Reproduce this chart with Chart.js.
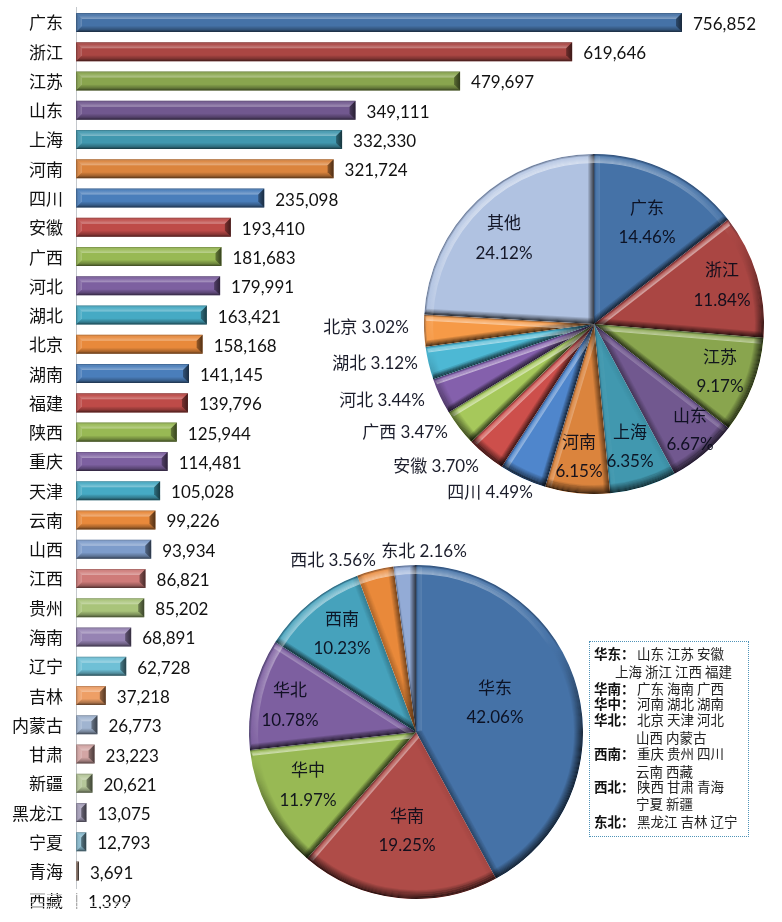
<!DOCTYPE html>
<html lang="zh"><head><meta charset="utf-8">
<style>
html,body{margin:0;padding:0;background:#fff;width:782px;height:922px;overflow:hidden}
canvas{position:absolute;left:0;top:0}
#key{position:absolute;left:589px;top:641px;width:158px;height:194px;border:1px dotted #4f93b8;box-sizing:content-box;font-family:"Noto Sans CJK SC","Lato",sans-serif;font-size:13.5px;color:#222}
#key div{position:absolute;white-space:pre;line-height:16px}
#key b{font-weight:700;color:#111;display:inline-block;width:43px}
.wipe{position:absolute;left:0;width:220px;background:#fff}
</style>
<script src="https://cdn.jsdelivr.net/npm/chart.js@4/dist/chart.umd.min.js"></script>
</head><body>
<canvas id="bars" width="782" height="922"></canvas>
<canvas id="pieTop" width="782" height="922"></canvas>
<canvas id="pieBottom" width="782" height="922"></canvas>
<div class="wipe" style="top:889px;height:4px"></div>
<div class="wipe" style="top:894px;height:1px;opacity:.8"></div>
<div class="wipe" style="top:902px;height:1px;opacity:.55"></div>
<div class="wipe" style="top:906px;height:1px;opacity:.7"></div>
<div class="wipe" style="top:909px;height:13px"></div>
<div id="key"></div>
<script>
const provinces = ["广东","浙江","江苏","山东","上海","河南","四川","安徽","广西","河北","湖北","北京","湖南","福建","陕西","重庆","天津","云南","山西","江西","贵州","海南","辽宁","吉林","内蒙古","甘肃","新疆","黑龙江","宁夏","青海","西藏"];
const provinceValues = [756852,619646,479697,349111,332330,321724,235098,193410,181683,179991,163421,158168,141145,139796,125944,114481,105028,99226,93934,86821,85202,68891,62728,37218,26773,23223,20621,13075,12793,3691,1399];
const barColors = ["#4572A7","#AA4643","#89A54E","#71588F","#4198AF","#DB843D","#4A7EBB","#BE4B48","#98B954","#7D60A0","#46AAC4","#E8893B","#4A7EBB","#BE4B48","#98B954","#7D60A0","#46AAC4","#E8893B","#7D9CCB","#CF7B79","#A9C47A","#9683B3","#6FC0D6","#EE9F66","#A0B4D0","#D3A5A4","#B6C79A","#A49DB8","#86B8CC","#8A7468","#C8C8C8"];

const shareNames = ["广东","浙江","江苏","山东","上海","河南","四川","安徽","广西","河北","湖北","北京","其他"];
const shareValues = [14.46,11.84,9.17,6.67,6.35,6.15,4.49,3.70,3.47,3.44,3.12,3.02,24.12];
const shareColors = ["#4572A7","#AA4643","#89A54E","#71588F","#4198AF","#DB843D","#4F86CC","#CD4F4B","#A6C85B","#8460AC","#4DB8D4","#F69A47","#B0C2E1"];

const regionNames = ["华东","华南","华中","华北","西南","西北","东北"];
const regionValues = [42.06,19.25,11.97,10.78,10.23,3.56,2.16];
const regionColors = ["#4572A7","#AF4C48","#98B954","#7D5FA0","#46A2BC","#E9893A","#93ABD6"];

const FONT = '"Lato","Noto Sans CJK SC",sans-serif';
const LABEL_SIZE = 17;

/* label anchors relative to each pie's centre: [dx, nameDy, valueDy] or one-line [dx, dy] */
const shareLabelAnchors = [[53,-115,-86],[128,-53,-23],[126,34,63],[96,93,121],[36,109,138],[-15,119,148],[-104,169],[-158,143],[-189,109],[-212,77],[-219,40],[-228,4],[-90,-100,-70]];
const regionLabelAnchors = [[79,-43,-14],[-9,85,114],[-108,39,69],[-126,-41,-11],[-74,-112,-83],[-83,-171],[8,-180]];

const keyRows = [
 [4,3,"华东：","山东 江苏 安徽"],[25,21,"","上海 浙江 江西 福建"],[4,38,"华南：","广东 海南 广西"],[4,53,"华中：","河南 湖北 湖南"],
 [4,69,"华北：","北京 天津 河北"],[46,87,"","山西 内蒙古"],[4,103,"西南：","重庆 贵州 四川"],[46,121,"","云南 西藏"],
 [4,136,"西北：","陕西 甘肃 青海"],[46,153,"","宁夏 新疆"],[4,171,"东北：","黑龙江 吉林 辽宁"]];
const keyEl = document.getElementById('key');
keyRows.forEach(([x,y,head,body])=>{
  const d=document.createElement('div');d.style.left=x+'px';d.style.top=y+'px';
  if(head){const b=document.createElement('b');b.textContent=head;d.appendChild(b);}
  d.appendChild(document.createTextNode(body));keyEl.appendChild(d);
});

/* bevel drawn over the bars the library has placed */
const barBevel = {
  id:'barBevel',
  afterDatasetsDraw(chart){
    const ctx=chart.ctx, meta=chart.getDatasetMeta(0);
    const band=(pts,x0,y0,x1,y1,stops)=>{
      const g=ctx.createLinearGradient(x0,y0,x1,y1);
      stops.forEach(([p,c])=>g.addColorStop(p,c));
      ctx.fillStyle=g;ctx.beginPath();
      pts.forEach((p,i)=>i?ctx.lineTo(p[0],p[1]):ctx.moveTo(p[0],p[1]));
      ctx.closePath();ctx.fill();
    };
    meta.data.forEach(el=>{
      const h=el.height, l=el.base, r=el.x, t=el.y-h/2, bt=el.y+h/2;
      const b=Math.min(6,(r-l)/2,h/2);
      band([[l,t],[r,t],[r-b,t+b],[l+b,t+b]],0,t,0,t+b,[[0,'rgba(0,0,0,.28)'],[.35,'rgba(255,255,255,.05)'],[1,'rgba(255,255,255,.34)']]);
      band([[l,bt],[r,bt],[r-b,bt-b],[l+b,bt-b]],0,bt-b,0,bt,[[0,'rgba(0,0,0,.02)'],[.6,'rgba(0,0,0,.28)'],[1,'rgba(0,0,0,.62)']]);
      band([[l,t],[l+b,t+b],[l+b,bt-b],[l,bt]],l,0,l+b,0,[[0,'rgba(0,0,0,.3)'],[.6,'rgba(255,255,255,.06)'],[1,'rgba(255,255,255,.2)']]);
      band([[r,t],[r-b,t+b],[r-b,bt-b],[r,bt]],r-b,0,r,0,[[0,'rgba(0,0,0,.35)'],[1,'rgba(0,0,0,.65)']]);
    });
  }
};
const barValues = {
  id:'barValues',
  afterDatasetsDraw(chart){
    const ctx=chart.ctx, meta=chart.getDatasetMeta(0), ds=chart.data.datasets[0];
    ctx.save();ctx.font=LABEL_SIZE+'px '+FONT;ctx.fillStyle='#111';ctx.textAlign='left';ctx.textBaseline='middle';
    meta.data.forEach((el,i)=>ctx.fillText(ds.data[i].toLocaleString('en-US'),el.x+11,el.y+2));
    ctx.restore();
  }
};

const LIGHT=[-0.35,-0.94];
function shade(nx,ny,i,w){
  const d=nx*LIGHT[0]+ny*LIGHT[1]-0.2, f=i/w;
  if(d>0){
    if(f<.2) return 'rgba(30,40,60,'+(0.42*(1-f/.2))+')';
    return 'rgba(255,255,255,'+(d*0.62*Math.min(1,f*1.2))+')';
  }
  return 'rgba(0,0,0,'+(Math.min(.72,-d*1.15)*(1-f))+')';
}
/* bevel on each slice the library has placed */
const pieBevel = {
  id:'pieBevel',
  afterDatasetsDraw(chart){
    const ctx=chart.ctx;
    chart.getDatasetMeta(0).data.forEach(el=>{
      const {x,y,startAngle:s,endAngle:e,outerRadius:R}=el;
      const W=9, E=6;
      ctx.save();
      ctx.beginPath();ctx.moveTo(x,y);ctx.arc(x,y,R,s,e);ctx.closePath();ctx.clip();
      ctx.lineCap='butt';
      // radial edges
      [[s,Math.sin(s),-Math.cos(s)],[e,-Math.sin(e),Math.cos(e)]].forEach(([a,nx,ny])=>{
        const ix=-nx, iy=-ny, cx=Math.cos(a), sy=Math.sin(a);
        for(let i=0;i<E;i++){
          ctx.strokeStyle=shade(nx,ny,i,E);ctx.lineWidth=1.05;
          ctx.beginPath();
          ctx.moveTo(x+ix*(i+.5)+cx*(i*0.2),y+iy*(i+.5)+sy*(i*0.2));
          ctx.lineTo(x+ix*(i+.5)+cx*(R-i*0.4),y+iy*(i+.5)+sy*(R-i*0.4));
          ctx.stroke();
        }
      });
      // outer rim: one smooth ring per pixel of depth
      for(let i=0;i<W;i++){
        const g=ctx.createConicGradient(0,x,y);
        for(let k=0;k<=72;k++){
          const m=k/72*Math.PI*2;
          g.addColorStop(k/72,shade(Math.cos(m),Math.sin(m),i,W));
        }
        ctx.strokeStyle=g;ctx.lineWidth=1.05;
        ctx.beginPath();ctx.arc(x,y,R-i-.5,s,e);ctx.stroke();
      }
      ctx.restore();
    });
  }
};
const pieLabels = {
  id:'pieLabels',
  afterDraw(chart){
    const ctx=chart.ctx, anchors=chart.options.plugins.pieLabels.anchors;
    const el0=chart.getDatasetMeta(0).data[0], cx=el0.x, cy=el0.y, ds=chart.data.datasets[0];
    ctx.save();ctx.font=LABEL_SIZE+'px '+FONT;ctx.textAlign='center';ctx.textBaseline='middle';ctx.fillStyle='rgba(8,10,25,.92)';
    anchors.forEach((a,i)=>{
      const name=chart.data.labels[i], val=ds.data[i].toFixed(2)+'%';
      if(a.length===3){ctx.fillText(name,cx+a[0],cy+a[1]);ctx.fillText(val,cx+a[0],cy+a[2]);}
      else ctx.fillText(name+' '+val,cx+a[0],cy+a[1]);
    });
    ctx.restore();
  }
};

new Chart(document.getElementById('bars'),{
  type:'bar',
  data:{labels:provinces,datasets:[{data:provinceValues,backgroundColor:barColors,borderWidth:0,categoryPercentage:.65,barPercentage:1}]},
  options:{
    indexAxis:'y',responsive:false,animation:false,devicePixelRatio:1,
    layout:{padding:{left:0,right:6.2,top:7.8,bottom:7}},
    plugins:{legend:{display:false},tooltip:{enabled:false}},
    scales:{
      x:{display:false,min:0,max:874000},
      y:{afterFit(s){s.width=76;s.paddingTop=0;s.paddingBottom=0;},grid:{display:false,drawTicks:false},border:{color:'#c4c8cc',width:1},
         ticks:{autoSkip:false,padding:13,labelOffset:1.5,color:'#111',font:{size:LABEL_SIZE,family:FONT}}}
    }
  },
  plugins:[barBevel,barValues]
});
function pie(id,labels,values,colors,anchors,cx,cy,r){
  new Chart(document.getElementById(id),{
    type:'pie',
    data:{labels,datasets:[{data:values,backgroundColor:colors,borderWidth:0}]},
    options:{
      responsive:false,animation:false,devicePixelRatio:1,radius:r,
      layout:{padding:{left:cx-r-1,right:782-cx-r-1,top:cy-r-1,bottom:922-cy-r-1}},
      plugins:{legend:{display:false},tooltip:{enabled:false},pieLabels:{anchors}}
    },
    plugins:[pieBevel,pieLabels]
  });
}
pie('pieTop',shareNames,shareValues,shareColors,shareLabelAnchors,594,324,170);
pie('pieBottom',regionNames,regionValues,regionColors,regionLabelAnchors,416,732,167);
</script>
</body></html>
